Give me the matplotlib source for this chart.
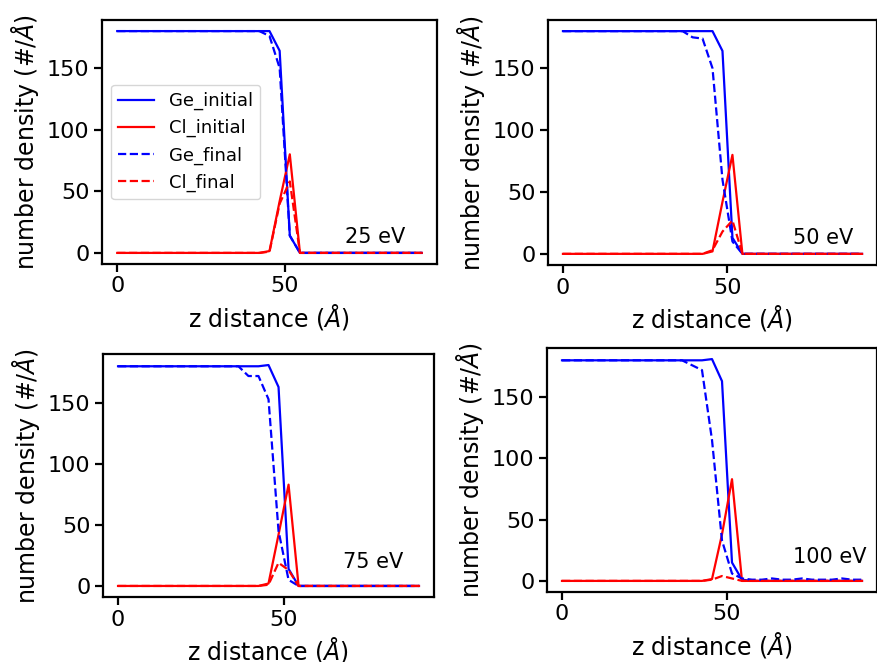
import matplotlib
matplotlib.use('Agg')
import matplotlib.pyplot as plt

plt.rcParams['font.family'] = ['DejaVu Sans']
plt.rcParams['axes.linewidth'] = 1.6
plt.rcParams['xtick.major.size'] = 5.5
plt.rcParams['ytick.major.size'] = 5.5
plt.rcParams['xtick.major.width'] = 1.6
plt.rcParams['ytick.major.width'] = 1.6
plt.rcParams['xtick.labelsize'] = 16
plt.rcParams['ytick.labelsize'] = 16
plt.rcParams['axes.labelsize'] = 17

# z grid (Angstrom)
z = [0.0, 3.03, 6.06, 9.09, 12.12, 15.15, 18.18, 21.21, 24.24, 27.27, 30.3,
     33.33, 36.36, 39.39, 42.42, 45.45, 48.48, 51.51, 54.54, 57.57, 60.6,
     63.63, 66.66, 69.69, 72.72, 75.75, 78.78, 81.81, 84.84, 87.87, 90.9]

energies = ['25 eV', '50 eV', '75 eV', '100 eV']

ge_initial = [
    [180] * 15 + [180, 164, 14] + [0] * 13,
    [180] * 15 + [180, 164, 13] + [0] * 13,
    [180] * 15 + [181, 163, 14] + [0] * 13,
    [180] * 15 + [181, 163, 15] + [1] + [0] * 12,
]
cl_initial = [
    [0] * 15 + [1.5, 42, 80] + [0] * 13,
    [0] * 15 + [2, 42, 80] + [0] * 13,
    [0] * 15 + [2, 42, 83] + [0] * 13,
    [0] * 15 + [1.5, 38, 83] + [0] * 13,
]
ge_final = [
    [180] * 15 + [176, 150, 14] + [0] * 13,
    [180] * 13 + [175, 174, 150, 60, 10] + [0] * 13,
    [180] * 13 + [172, 172, 153, 45, 5] + [0] * 13,
    [180] * 13 + [176, 172, 115, 33, 6, 2, 1, 1, 2, 1, 1, 2, 1, 1, 1, 2, 1, 1],
]
cl_final = [
    [0] * 15 + [1, 40, 58] + [0] * 13,
    [0] * 15 + [3, 18, 27] + [0] * 13,
    [0] * 15 + [1, 19, 13] + [0] * 13,
    [0] * 15 + [1, 4, 2] + [0] * 13,
]

# axes boxes in pixels: left, top, right, bottom
boxes = [(102, 20, 437, 264), (548, 20, 877, 265),
         (103, 354, 434, 597), (547, 348, 877, 592)]
label_pos = [(68, 8), (70, 8), (68, 15), (70, 15)]

W, H = 878, 662
fig = plt.figure(figsize=(W / 100, H / 100), dpi=100)

for k in range(4):
    l, t, r, b = boxes[k]
    ax = fig.add_axes([l / W, 1 - b / H, (r - l) / W, (b - t) / H])
    ax.plot(z, ge_initial[k], color='blue', lw=1.6, label='Ge_initial')
    ax.plot(z, cl_initial[k], color='red', lw=1.6, label='Cl_initial')
    ax.plot(z, ge_final[k], color='blue', lw=1.6, ls='--', label='Ge_final')
    ax.plot(z, cl_final[k], color='red', lw=1.6, ls='--', label='Cl_final')
    ax.set_xticks([0, 50])
    ax.set_yticks([0, 50, 100, 150])
    ax.set_xlabel(r'z distance ($Å$)')
    ax.set_ylabel(r'number density (#/$Å$)')
    ax.text(label_pos[k][0], label_pos[k][1], energies[k], fontsize=15)
    if k == 0:
        ax.legend(loc='center left', fontsize=13)

fig.savefig('out.png', dpi=100)
